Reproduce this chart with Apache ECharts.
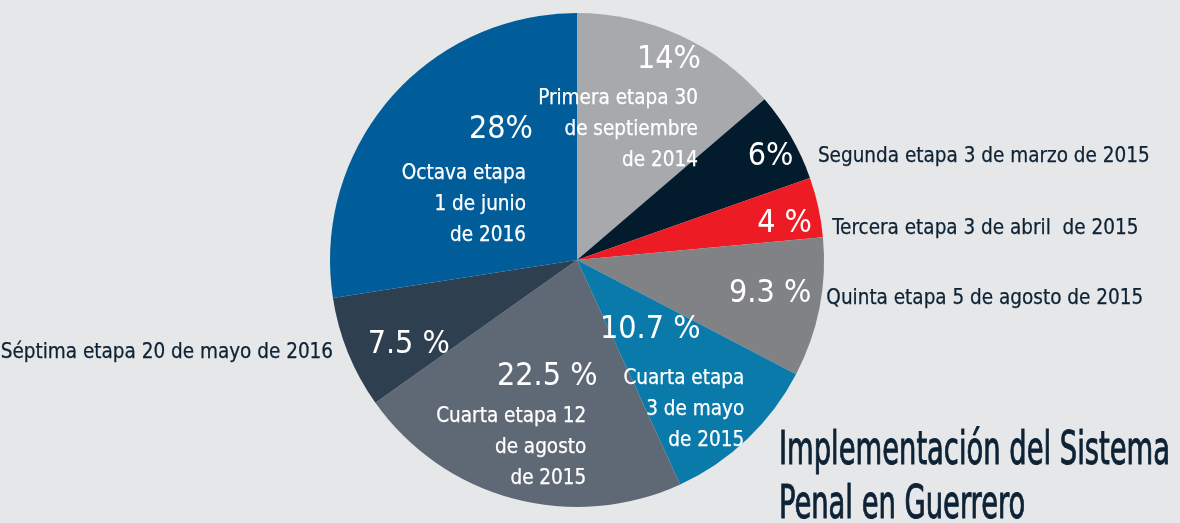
<!DOCTYPE html>
<html><head><meta charset="utf-8">
<script src="https://cdn.jsdelivr.net/npm/echarts@6/dist/echarts.min.js"></script>
<style>html,body{margin:0;padding:0;background:#e6e7e8}#c{width:1180px;height:523px}</style>
</head><body><div id="c"></div>
<script>
const stages = ['Primera etapa', 'Segunda etapa', 'Tercera etapa', 'Quinta etapa', 'Cuarta etapa (3 de mayo)', 'Cuarta etapa (12 de agosto)', 'Séptima etapa', 'Octava etapa'];
const shares = [14, 6, 4, 9.3, 10.7, 22.5, 7.5, 28];
const shareLabels = ['14%', '6%', '4 %', '9.3 %', '10.7 %', '22.5 %', '7.5 %', '28%'];
const innerNames = ['Primera etapa 30\nde septiembre\nde 2014', '', '', '', 'Cuarta etapa\n3 de mayo\nde 2015', 'Cuarta etapa 12\nde agosto\nde 2015', '', 'Octava etapa\n1 de junio\nde 2016'];
const outerNames = ['', 'Segunda etapa 3 de marzo de 2015', 'Tercera etapa 3 de abril  de 2015', 'Quinta etapa 5 de agosto de 2015', '', '', 'Séptima etapa 20 de mayo de 2016', ''];
const titleText = 'Implementación del Sistema\nPenal en Guerrero';

const sliceColors = ['#a7a9ac', '#021c2d', '#ed1c24', '#808285', '#0a7aab', '#5f6975', '#2e3f50', '#005d9a'];
// label nudges (dx, dy) away from the library's default anchor
const pctShift = [[39,-85],[84,-40],[84,-9],[69,9],[-14,-22],[3,-6],[-51,37],[20,-48]];
const nameShift = [[68,-15],[0,0],[0,0],[0,0],[80,58],[42,65],[0,0],[45,27]];
const outerShift = [[0,0],[22,20],[9,22],[2,-9],[0,0],[0,0],[-10,0],[0,0]];
const FONT = "'DejaVu Sans Condensed', 'DejaVu Sans', sans-serif";
const TEXT_DARK = '#0d2235';
const PIE_CENTER = [577, 260];
const PIE_RADIUS = 247;

// condensed title: measure and squeeze horizontally
const TITLE_SIZE = 47;
const titleFont = 'normal ' + TITLE_SIZE + "px 'DejaVu Sans Condensed', 'DejaVu Sans', sans-serif";
const mctx = document.createElement('canvas').getContext('2d');
mctx.font = titleFont;
const titleW = mctx.measureText(titleText.split('\n')[0]).width;
const titleScale = 391 / titleW;

const chart = echarts.init(document.getElementById('c'), null, {renderer: 'canvas'});

function baseSeries() {
  return {
    type: 'pie',
    center: PIE_CENTER,
    radius: PIE_RADIUS,
    startAngle: 90,
    clockwise: true,
    avoidLabelOverlap: false,
    emphasis: {disabled: true},
    labelLine: {show: false, length: 0, length2: 0}
  };
}

chart.setOption({
  backgroundColor: '#e6e7e8',
  animation: false,
  graphic: [{
    type: 'text',
    x: 779,
    y: 425,
    scaleX: titleScale,
    silent: true,
    style: {
      text: titleText,
      font: titleFont,
      fill: TEXT_DARK,
      stroke: TEXT_DARK,
      lineWidth: 1.0,
      lineHeight: 54,
      verticalAlign: 'top',
      align: 'left'
    }
  }],
  series: [
    Object.assign(baseSeries(), {
      itemStyle: {borderWidth: 0},
      label: {
        show: true,
        position: 'inside',
        fontFamily: FONT,
        fontSize: 32,
        color: '#ffffff',
        formatter: p => shareLabels[p.dataIndex]
      },
      labelLayout: p => ({dx: pctShift[p.dataIndex][0], dy: pctShift[p.dataIndex][1]}),
      data: stages.map((s, i) => ({name: s, value: shares[i], itemStyle: {color: sliceColors[i]}}))
    }),
    Object.assign(baseSeries(), {
      silent: true,
      itemStyle: {color: 'rgba(0,0,0,0)'},
      label: {
        show: true,
        position: 'inside',
        fontFamily: FONT,
        fontSize: 20.5,
        lineHeight: 31,
        color: '#ffffff',
        textBorderColor: '#ffffff',
        textBorderWidth: 0.25,
        formatter: p => innerNames[p.dataIndex]
      },
      labelLayout: p => ({align: 'right', dx: nameShift[p.dataIndex][0], dy: nameShift[p.dataIndex][1]}),
      data: stages.map((s, i) => ({name: s, value: shares[i], label: {show: innerNames[i] !== ''}}))
    }),
    Object.assign(baseSeries(), {
      silent: true,
      itemStyle: {color: 'rgba(0,0,0,0)'},
      label: {
        show: true,
        position: 'outside',
        fontFamily: FONT,
        fontSize: 20.5,
        color: TEXT_DARK,
        textBorderColor: TEXT_DARK,
        textBorderWidth: 0.25,
        formatter: p => outerNames[p.dataIndex]
      },
      labelLayout: p => ({dx: outerShift[p.dataIndex][0], dy: outerShift[p.dataIndex][1]}),
      data: stages.map((s, i) => ({name: s, value: shares[i], label: {show: outerNames[i] !== ''}}))
    })
  ]
});
</script>
</body></html>
